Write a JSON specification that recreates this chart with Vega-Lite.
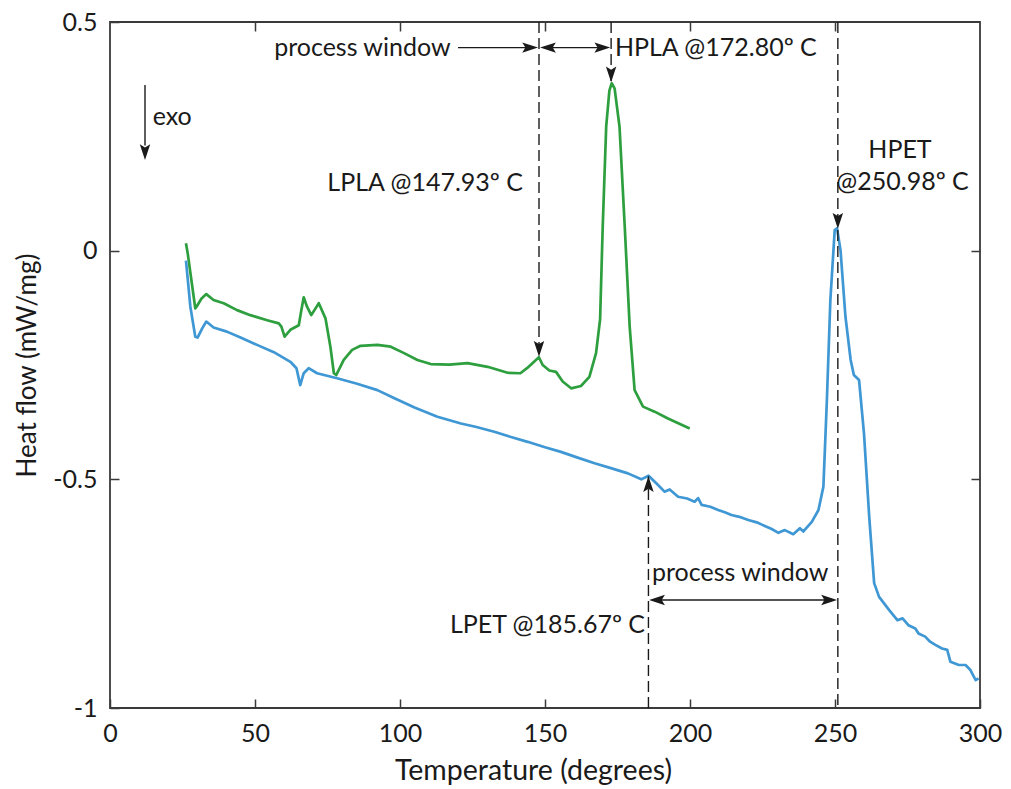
{
  "$schema": "https://vega.github.io/schema/vega-lite/v6.json",
  "width": 870,
  "height": 686,
  "autosize": "none",
  "padding": {"left": 110, "top": 22, "right": 31, "bottom": 81},
  "background": "white",
  "config": {
    "view": {"stroke": "#3a3a3a", "strokeWidth": 1.8},
    "font": "Lato",
    "text": {"font": "Lato", "fontSize": 25, "color": "#1a1a1a", "baseline": "middle"}
  },
  "datasets": {
    "curves": [
      {"series": "PLA", "x": 26.2, "y": 0.016},
      {"series": "PLA", "x": 26.8, "y": -0.006},
      {"series": "PLA", "x": 29.4, "y": -0.126},
      {"series": "PLA", "x": 29.9, "y": -0.122},
      {"series": "PLA", "x": 31.5, "y": -0.105},
      {"series": "PLA", "x": 33.2, "y": -0.095},
      {"series": "PLA", "x": 35.7, "y": -0.108},
      {"series": "PLA", "x": 39.2, "y": -0.115},
      {"series": "PLA", "x": 43.8, "y": -0.130},
      {"series": "PLA", "x": 48.4, "y": -0.141},
      {"series": "PLA", "x": 54.2, "y": -0.152},
      {"series": "PLA", "x": 58.2, "y": -0.159},
      {"series": "PLA", "x": 59.1, "y": -0.166},
      {"series": "PLA", "x": 60.2, "y": -0.188},
      {"series": "PLA", "x": 62.2, "y": -0.173},
      {"series": "PLA", "x": 65.1, "y": -0.163},
      {"series": "PLA", "x": 65.9, "y": -0.133},
      {"series": "PLA", "x": 66.8, "y": -0.102},
      {"series": "PLA", "x": 67.9, "y": -0.122},
      {"series": "PLA", "x": 69.4, "y": -0.141},
      {"series": "PLA", "x": 72.0, "y": -0.115},
      {"series": "PLA", "x": 74.3, "y": -0.148},
      {"series": "PLA", "x": 76.0, "y": -0.210},
      {"series": "PLA", "x": 77.2, "y": -0.268},
      {"series": "PLA", "x": 78.0, "y": -0.272},
      {"series": "PLA", "x": 80.6, "y": -0.239},
      {"series": "PLA", "x": 83.5, "y": -0.217},
      {"series": "PLA", "x": 86.4, "y": -0.208},
      {"series": "PLA", "x": 92.2, "y": -0.206},
      {"series": "PLA", "x": 96.8, "y": -0.210},
      {"series": "PLA", "x": 101.4, "y": -0.224},
      {"series": "PLA", "x": 106.0, "y": -0.239},
      {"series": "PLA", "x": 110.6, "y": -0.248},
      {"series": "PLA", "x": 117.0, "y": -0.249},
      {"series": "PLA", "x": 123.3, "y": -0.246},
      {"series": "PLA", "x": 130.2, "y": -0.254},
      {"series": "PLA", "x": 137.1, "y": -0.267},
      {"series": "PLA", "x": 141.5, "y": -0.268},
      {"series": "PLA", "x": 143.8, "y": -0.257},
      {"series": "PLA", "x": 147.9, "y": -0.233},
      {"series": "PLA", "x": 149.2, "y": -0.250},
      {"series": "PLA", "x": 151.5, "y": -0.262},
      {"series": "PLA", "x": 153.8, "y": -0.265},
      {"series": "PLA", "x": 156.1, "y": -0.286},
      {"series": "PLA", "x": 159.0, "y": -0.301},
      {"series": "PLA", "x": 162.4, "y": -0.296},
      {"series": "PLA", "x": 165.3, "y": -0.276},
      {"series": "PLA", "x": 167.6, "y": -0.224},
      {"series": "PLA", "x": 169.0, "y": -0.150},
      {"series": "PLA", "x": 169.9, "y": 0.052},
      {"series": "PLA", "x": 171.1, "y": 0.271},
      {"series": "PLA", "x": 172.2, "y": 0.350},
      {"series": "PLA", "x": 173.0, "y": 0.366},
      {"series": "PLA", "x": 174.0, "y": 0.355},
      {"series": "PLA", "x": 175.7, "y": 0.271},
      {"series": "PLA", "x": 177.5, "y": 0.052},
      {"series": "PLA", "x": 179.2, "y": -0.166},
      {"series": "PLA", "x": 180.9, "y": -0.305},
      {"series": "PLA", "x": 183.8, "y": -0.341},
      {"series": "PLA", "x": 187.8, "y": -0.352},
      {"series": "PLA", "x": 192.4, "y": -0.367},
      {"series": "PLA", "x": 199.9, "y": -0.389},
      {"series": "PET", "x": 26.2, "y": -0.022},
      {"series": "PET", "x": 27.7, "y": -0.122},
      {"series": "PET", "x": 29.4, "y": -0.188},
      {"series": "PET", "x": 30.2, "y": -0.190},
      {"series": "PET", "x": 31.8, "y": -0.170},
      {"series": "PET", "x": 33.2, "y": -0.155},
      {"series": "PET", "x": 35.7, "y": -0.168},
      {"series": "PET", "x": 40.3, "y": -0.177},
      {"series": "PET", "x": 45.0, "y": -0.190},
      {"series": "PET", "x": 50.7, "y": -0.206},
      {"series": "PET", "x": 56.5, "y": -0.222},
      {"series": "PET", "x": 62.2, "y": -0.243},
      {"series": "PET", "x": 64.3, "y": -0.257},
      {"series": "PET", "x": 65.6, "y": -0.294},
      {"series": "PET", "x": 66.8, "y": -0.268},
      {"series": "PET", "x": 68.5, "y": -0.257},
      {"series": "PET", "x": 71.4, "y": -0.268},
      {"series": "PET", "x": 78.3, "y": -0.279},
      {"series": "PET", "x": 85.2, "y": -0.291},
      {"series": "PET", "x": 92.2, "y": -0.305},
      {"series": "PET", "x": 97.9, "y": -0.322},
      {"series": "PET", "x": 105.0, "y": -0.343},
      {"series": "PET", "x": 112.9, "y": -0.363},
      {"series": "PET", "x": 121.0, "y": -0.378},
      {"series": "PET", "x": 126.0, "y": -0.385},
      {"series": "PET", "x": 132.5, "y": -0.396},
      {"series": "PET", "x": 138.0, "y": -0.407},
      {"series": "PET", "x": 144.0, "y": -0.418},
      {"series": "PET", "x": 150.0, "y": -0.430},
      {"series": "PET", "x": 155.5, "y": -0.440},
      {"series": "PET", "x": 161.0, "y": -0.452},
      {"series": "PET", "x": 167.1, "y": -0.465},
      {"series": "PET", "x": 173.0, "y": -0.476},
      {"series": "PET", "x": 178.6, "y": -0.487},
      {"series": "PET", "x": 183.2, "y": -0.500},
      {"series": "PET", "x": 185.7, "y": -0.492},
      {"series": "PET", "x": 188.9, "y": -0.512},
      {"series": "PET", "x": 191.2, "y": -0.527},
      {"series": "PET", "x": 193.0, "y": -0.522},
      {"series": "PET", "x": 195.9, "y": -0.538},
      {"series": "PET", "x": 199.0, "y": -0.542},
      {"series": "PET", "x": 201.6, "y": -0.549},
      {"series": "PET", "x": 202.8, "y": -0.541},
      {"series": "PET", "x": 204.0, "y": -0.556},
      {"series": "PET", "x": 207.0, "y": -0.560},
      {"series": "PET", "x": 209.7, "y": -0.567},
      {"series": "PET", "x": 212.0, "y": -0.572},
      {"series": "PET", "x": 214.3, "y": -0.578},
      {"series": "PET", "x": 217.0, "y": -0.582},
      {"series": "PET", "x": 220.1, "y": -0.589},
      {"series": "PET", "x": 223.0, "y": -0.594},
      {"series": "PET", "x": 225.8, "y": -0.602},
      {"series": "PET", "x": 228.0, "y": -0.608},
      {"series": "PET", "x": 230.5, "y": -0.617},
      {"series": "PET", "x": 232.7, "y": -0.611},
      {"series": "PET", "x": 235.6, "y": -0.620},
      {"series": "PET", "x": 237.9, "y": -0.607},
      {"series": "PET", "x": 239.1, "y": -0.614},
      {"series": "PET", "x": 242.0, "y": -0.593},
      {"series": "PET", "x": 244.3, "y": -0.567},
      {"series": "PET", "x": 246.0, "y": -0.516},
      {"series": "PET", "x": 247.2, "y": -0.327},
      {"series": "PET", "x": 248.4, "y": -0.108},
      {"series": "PET", "x": 249.9, "y": 0.045},
      {"series": "PET", "x": 250.7, "y": 0.049},
      {"series": "PET", "x": 251.9, "y": 0.001},
      {"series": "PET", "x": 253.6, "y": -0.144},
      {"series": "PET", "x": 255.4, "y": -0.239},
      {"series": "PET", "x": 256.5, "y": -0.272},
      {"series": "PET", "x": 258.3, "y": -0.283},
      {"series": "PET", "x": 260.0, "y": -0.400},
      {"series": "PET", "x": 261.8, "y": -0.582},
      {"series": "PET", "x": 263.5, "y": -0.727},
      {"series": "PET", "x": 265.2, "y": -0.757},
      {"series": "PET", "x": 268.7, "y": -0.786},
      {"series": "PET", "x": 271.5, "y": -0.808},
      {"series": "PET", "x": 273.3, "y": -0.804},
      {"series": "PET", "x": 275.3, "y": -0.819},
      {"series": "PET", "x": 277.7, "y": -0.826},
      {"series": "PET", "x": 278.8, "y": -0.837},
      {"series": "PET", "x": 281.1, "y": -0.844},
      {"series": "PET", "x": 282.8, "y": -0.855},
      {"series": "PET", "x": 284.6, "y": -0.862},
      {"series": "PET", "x": 286.9, "y": -0.870},
      {"series": "PET", "x": 288.7, "y": -0.873},
      {"series": "PET", "x": 289.8, "y": -0.899},
      {"series": "PET", "x": 292.7, "y": -0.906},
      {"series": "PET", "x": 295.0, "y": -0.906},
      {"series": "PET", "x": 296.7, "y": -0.917},
      {"series": "PET", "x": 298.5, "y": -0.939},
      {"series": "PET", "x": 299.5, "y": -0.935}
    ],
    "dashed": [
      {"x": 147.93, "x2": 147.93, "y": 0.5, "y2": -0.232},
      {"x": 172.8, "x2": 172.8, "y": 0.5, "y2": 0.368},
      {"x": 250.98, "x2": 250.98, "y": 0.5, "y2": -1},
      {"x": 185.67, "x2": 185.67, "y": -1, "y2": -0.493}
    ],
    "solid": [
      {"x": 120.0, "x2": 144.0, "y": 0.444, "y2": 0.444},
      {"x": 152.0, "x2": 168.8, "y": 0.444, "y2": 0.444},
      {"x": 189.5, "x2": 247.0, "y": -0.764, "y2": -0.764},
      {"x": 12.07, "x2": 12.07, "y": 0.362, "y2": 0.23}
    ],
    "heads": [
      {"x": 147.6, "y": 0.444, "dir": "right"},
      {"x": 148.3, "y": 0.444, "dir": "left"},
      {"x": 172.5, "y": 0.444, "dir": "right"},
      {"x": 172.8, "y": 0.368, "dir": "down"},
      {"x": 147.93, "y": -0.232, "dir": "down"},
      {"x": 250.98, "y": 0.048, "dir": "down"},
      {"x": 185.67, "y": -0.493, "dir": "up"},
      {"x": 185.9, "y": -0.764, "dir": "left"},
      {"x": 250.7, "y": -0.764, "dir": "right"},
      {"x": 12.07, "y": 0.198, "dir": "down"}
    ],
    "labelsLeft": [
      {"x": 56.6, "y": 0.444, "label": "process window"},
      {"x": 174.1, "y": 0.444, "label": "HPLA @172.80º C"},
      {"x": 14.7, "y": 0.293, "label": "exo"},
      {"x": 186.9, "y": -0.705, "label": "process window"}
    ],
    "labelsRight": [
      {"x": 142.4, "y": 0.147, "label": "LPLA @147.93º C"},
      {"x": 184.5, "y": -0.819, "label": "LPET @185.67º C"}
    ],
    "labelsCenter": [
      {"x": 272.4, "y": 0.22, "label": "HPET"},
      {"x": 273.3, "y": 0.151, "label": "@250.98º C"}
    ]
  },
  "encoding": {
    "x": {"field": "x", "type": "quantitative", "scale": {"domain": [0, 300], "nice": false, "zero": false}, "axis": null},
    "y": {"field": "y", "type": "quantitative", "scale": {"domain": [-1, 0.5], "nice": false, "zero": false}, "axis": null}
  },
  "layer": [
    {
      "data": {"name": "curves"},
      "mark": {"type": "line", "strokeWidth": 2.7, "strokeJoin": "round"},
      "encoding": {
        "x": {
          "field": "x", "type": "quantitative",
          "scale": {"domain": [0, 300], "nice": false, "zero": false},
          "axis": {
            "orient": "bottom", "values": [0, 50, 100, 150, 200, 250, 300],
            "title": "Temperature (degrees)", "grid": false, "domain": false,
            "tickSize": -9, "tickColor": "#3a3a3a", "tickWidth": 1.5,
            "labelFont": "Lato", "labelFontSize": 25, "labelColor": "#1a1a1a", "labelFlush": false,
            "labelPadding": 22, "labelExpr": "'' + datum.value",
            "titleFont": "Lato", "titleFontSize": 28.5, "titleFontWeight": "normal", "titleColor": "#1a1a1a", "titlePadding": 10,
            "titleX": 423
          }
        },
        "y": {
          "field": "y", "type": "quantitative",
          "scale": {"domain": [-1, 0.5], "nice": false, "zero": false},
          "axis": {
            "orient": "left", "values": [-1, -0.5, 0, 0.5],
            "title": "Heat flow (mW/mg)", "grid": false, "domain": false,
            "tickSize": -9, "tickColor": "#3a3a3a", "tickWidth": 1.5,
            "labelFont": "Lato", "labelFontSize": 25, "labelColor": "#1a1a1a", "labelFlush": false,
            "labelPadding": 22, "labelExpr": "'' + datum.value",
            "titleFont": "Lato", "titleFontSize": 26, "titleFontWeight": "normal", "titleColor": "#1a1a1a", "titlePadding": 12
          }
        },
        "color": {"field": "series", "type": "nominal", "scale": {"domain": ["PLA", "PET"], "range": ["#2e9f3e", "#3f97d4"]}, "legend": null}
      }
    },
    {
      "data": {"name": "heads"},
      "mark": {"type": "point", "opacity": 0},
      "encoding": {
        "x": {
          "field": "x", "type": "quantitative",
          "scale": {"domain": [0, 300], "nice": false, "zero": false},
          "axis": {"orient": "top", "values": [50, 100, 150, 200, 250], "title": null, "labels": false, "grid": false, "domain": false, "tickSize": -9, "tickColor": "#3a3a3a", "tickWidth": 1.5}
        },
        "y": {
          "field": "y", "type": "quantitative",
          "scale": {"domain": [-1, 0.5], "nice": false, "zero": false},
          "axis": {"orient": "right", "values": [-0.5, 0], "title": null, "labels": false, "grid": false, "domain": false, "tickSize": -9, "tickColor": "#3a3a3a", "tickWidth": 1.5}
        }
      }
    },
    {
      "data": {"name": "dashed"},
      "mark": {"type": "rule", "color": "#1a1a1a", "strokeWidth": 1.4, "strokeDash": [11, 5]},
      "encoding": {
        "x2": {"field": "x2"},
        "y2": {"field": "y2"}
      }
    },
    {
      "data": {"name": "solid"},
      "mark": {"type": "rule", "color": "#1a1a1a", "strokeWidth": 1.4},
      "encoding": {
        "x2": {"field": "x2"},
        "y2": {"field": "y2"}
      }
    },
    {
      "data": {"name": "heads"},
      "mark": {"type": "point", "filled": true, "opacity": 1, "color": "#1a1a1a", "strokeWidth": 0},
      "encoding": {
        "shape": {
          "field": "dir", "type": "nominal",
          "scale": {
            "domain": ["down", "up", "right", "left"],
            "range": ["M0,0L-0.33,-1L0,-0.8L0.33,-1Z", "M0,0L-0.33,1L0,0.8L0.33,1Z", "M0,0L-1,-0.33L-0.8,0L-1,0.33Z", "M0,0L1,-0.33L0.8,0L1,0.33Z"]
          },
          "legend": null
        },
        "size": {"value": 1000}
      }
    },
    {
      "data": {"name": "labelsLeft"},
      "mark": {"type": "text", "align": "left"},
      "encoding": {"text": {"field": "label"}}
    },
    {
      "data": {"name": "labelsRight"},
      "mark": {"type": "text", "align": "right"},
      "encoding": {"text": {"field": "label"}}
    },
    {
      "data": {"name": "labelsCenter"},
      "mark": {"type": "text", "align": "center"},
      "encoding": {"text": {"field": "label"}}
    }
  ],
  "resolve": {"axis": {"x": "independent", "y": "independent"}}
}
